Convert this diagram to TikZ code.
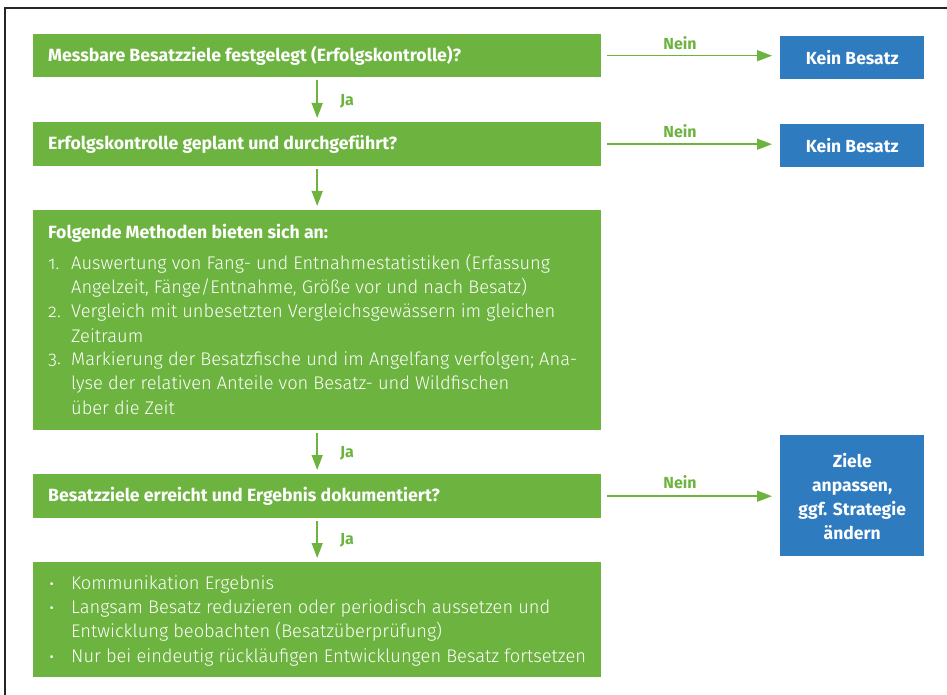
\documentclass[tikz,border=0pt]{standalone}
\usepackage{fontspec}
\setmainfont{Fira Sans}
\newfontfamily\lightfont{Fira Sans Light}
\newfontfamily\lightnum[Numbers=OldStyle]{Fira Sans Light}
\usetikzlibrary{arrows.meta}
\definecolor{gr}{HTML}{6DB33F}
\definecolor{bl}{HTML}{2E7BBF}
\tikzset{
  gbox/.style={fill=gr, draw=none, inner sep=0pt, anchor=north west, minimum width=568pt},
  bbox/.style={fill=bl, draw=none, inner sep=0pt, anchor=north west, minimum width=144pt},
  arr/.style={draw=gr, line width=1.5pt, -{Triangle[length=15pt,width=11pt]}},
  head/.style={anchor=west, inner sep=0pt, text=white, font=\bfseries\fontsize{17.7}{21}\selectfont},
  body/.style={anchor=west, inner sep=0pt, text=white, font=\lightfont\fontsize{18.3}{22}\selectfont},
  num/.style={anchor=west, inner sep=0pt, text=white, font=\lightnum\fontsize{18.3}{22}\selectfont},
  btxt/.style={inner sep=0pt, text=white, font=\bfseries\fontsize{17.5}{21}\selectfont},
  lab/.style={inner sep=0pt, text=gr, font=\bfseries\fontsize{16}{19}\selectfont},
}
\begin{document}
\begin{tikzpicture}[x=1pt,y=-1pt]
\useasboundingbox (0,0) rectangle (947,695);
\draw[line width=1.2pt, black!85] (5,695) -- (5,8) -- (947,8);
% green boxes
\node[gbox, minimum height=43pt] (b1) at (33,34) {};
\node[gbox, minimum height=44pt] (b2) at (33,122) {};
\node[gbox, minimum height=220pt] (b3) at (33,210) {};
\node[gbox, minimum height=44pt] (b4) at (33,474) {};
\node[gbox, minimum height=115pt] (b5) at (33,562) {};
% blue boxes
\node[bbox, minimum height=43pt] (k1) at (780,36) {};
\node[bbox, minimum height=43pt] (k2) at (780,124) {};
\node[bbox, minimum height=121pt] (k3) at (780,435) {};
% texts in green boxes
\node[head] (t1) at (48,56) {Messbare Besatzziele festgelegt (Erfolgskontrolle)?};
\node[head] (t2) at (48,144) {Erfolgskontrolle geplant und durchgeführt?};
\node[head] (t3) at (48,233) {Folgende Methoden bieten sich an:};
\node[num] (n1) at (48,264) {1.};
\node[body] (l1) at (71,264) {Auswertung von Fang- und Entnahmestatistiken (Erfassung};
\node[body] (l2) at (71,288) {Angelzeit, Fänge/Entnahme, Größe vor und nach Besatz)};
\node[num] (n2) at (48,312) {2.};
\node[body] (l3) at (71,312) {Vergleich mit unbesetzten Vergleichsgewässern im gleichen};
\node[body] (l4) at (71,336) {Zeitraum};
\node[num] (n3) at (48,360) {3.};
\node[body] (l5) at (71,360) {Markierung der Besatzfische und im Angelfang verfolgen; Ana-};
\node[body] (l6) at (71,384) {lyse der relativen Anteile von Besatz- und Wildfischen};
\node[body] (l7) at (71,408) {über die Zeit};
\node[head] (t4) at (48,496) {Besatzziele erreicht und Ergebnis dokumentiert?};
\node[body] (d1) at (49,587) {•};
\node[body] (m1) at (71,584) {Kommunikation Ergebnis};
\node[body] (d2) at (49,611) {•};
\node[body] (m2) at (71,608) {Langsam Besatz reduzieren oder periodisch aussetzen und};
\node[body] (m3) at (71,632) {Entwicklung beobachten (Besatzüberprüfung)};
\node[body] (d3) at (49,660) {•};
\node[body] (m4) at (71,657) {Nur bei eindeutig rückläufigen Entwicklungen Besatz fortsetzen};
% texts in blue boxes
\node[btxt] (u1) at (k1.center) {Kein Besatz};
\node[btxt] (u2) at (k2.center) {Kein Besatz};
\node[btxt, align=center, font=\bfseries\fontsize{17.5}{24}\selectfont] (u3) at ([yshift=-1pt]k3.center) {Ziele\\anpassen,\\ggf. Strategie\\ändern};
% vertical arrows
\draw[arr, shorten <=3pt, shorten >=4pt] (b1.south) -- (b2.north);
\draw[arr, shorten <=3pt, shorten >=4pt] (b2.south) -- (b3.north);
\draw[arr, shorten <=3pt, shorten >=4pt] (b3.south) -- (b4.north);
\draw[arr, shorten <=3pt, shorten >=4pt] (b4.south) -- (b5.north);
\node[lab] (j1) at (347,101) {Ja};
\node[lab] (j2) at (347,453) {Ja};
\node[lab] (j3) at (347,540) {Ja};
% horizontal arrows
\draw[arr, shorten <=6pt, shorten >=8pt] (b1.east) -- (b1.east -| k1.west);
\draw[arr, shorten <=6pt, shorten >=8pt] (b2.east) -- (b2.east -| k2.west);
\draw[arr, shorten <=6pt, shorten >=8pt] (b4.east) -- (b4.east -| k3.west);
\node[lab] (e1) at (680,43) {Nein};
\node[lab] (e2) at (680,131) {Nein};
\node[lab] (e3) at (680,482) {Nein};
\end{tikzpicture}
\end{document}
